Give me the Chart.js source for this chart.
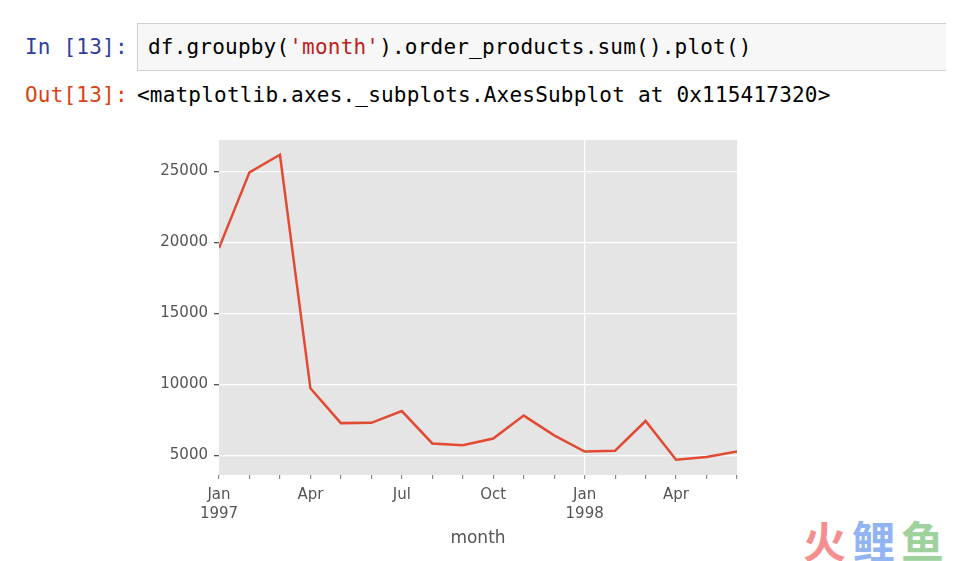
<!DOCTYPE html>
<html lang="en">
<head>
    <meta charset="UTF-8">
    <title>order_products by month</title>
    <style>
        body {
            margin: 0;
            background: #ffffff;
            width: 973px;
            height: 561px;
            position: relative;
            overflow: hidden;
            font-family: "DejaVu Sans Mono", monospace;
        }
        .prompt {
            position: absolute;
            left: 25px;
            font-size: 21px;
            letter-spacing: 0.2px;
        }
        .in { top: 35px; color: #303F9F; }
        .out { top: 83px; color: #D84315; }
        .codebox {
            position: absolute;
            left: 137px;
            top: 23px;
            width: 808px;
            height: 46px;
            background: #f7f7f7;
            border: 1px solid #cfcfcf;
            border-right: none;
        }
        .code {
            position: absolute;
            left: 10px;
            top: 11px;
            font-size: 21px;
            letter-spacing: 0.2px;
            color: #000;
            white-space: pre;
        }
        .str { color: #BA2121; }
        .outtext {
            position: absolute;
            left: 137px;
            top: 83px;
            font-size: 21px;
            letter-spacing: 0.2px;
            color: #000;
            white-space: pre;
        }
        #wrap {
            position: absolute;
            left: 140px;
            top: 130px;
            width: 610px;
            height: 425px;
        }
        .logo {
            position: absolute;
            left: 803px;
            top: 508px;
            font-family: "Noto Sans CJK SC", sans-serif;
            font-weight: bold;
            font-size: 43px;
            letter-spacing: 6px;
            opacity: 0.85;
        }
    </style>
    <script src="https://cdn.jsdelivr.net/npm/chart.js"></script>
</head>
<body>

<div class="prompt in">In [13]:</div>
<div class="codebox"><div class="code">df.groupby(<span class="str">'month'</span>).order_products.sum().plot()</div></div>
<div class="prompt out">Out[13]:</div>
<div class="outtext">&lt;matplotlib.axes._subplots.AxesSubplot at 0x115417320&gt;</div>

<div id="wrap"><canvas id="lineChart"></canvas></div>

<div class="logo"><span style="color:#F47C7C">火</span><span style="color:#7FA7F0">鲤</span><span style="color:#8CCB8C">鱼</span></div>

<script>
    // monthly totals, Jan 1997 .. Jun 1998
    const months = ['1997-01', '1997-02', '1997-03', '1997-04', '1997-05', '1997-06',
                    '1997-07', '1997-08', '1997-09', '1997-10', '1997-11', '1997-12',
                    '1998-01', '1998-02', '1998-03', '1998-04', '1998-05', '1998-06'];
    const orderProducts = [19600, 24920, 26160, 9730, 7280, 7300,
                           8130, 5850, 5730, 6200, 7810, 6420,
                           5280, 5340, 7430, 4700, 4900, 5290];
    const yTicks = [5000, 10000, 15000, 20000, 25000];
    // labelled months (index -> label lines)
    const xTickLabels = { 0: ['Jan', '1997'], 3: 'Apr', 6: 'Jul', 9: 'Oct', 12: ['Jan', '1998'], 15: 'Apr' };

    const points = orderProducts.map((v, i) => ({ x: i, y: v }));

    // grey panel behind the plot, ggplot style
    const panelBg = {
        id: 'panelBg',
        beforeDraw(chart) {
            const { ctx, chartArea: a } = chart;
            ctx.save();
            ctx.fillStyle = '#e5e5e5';
            ctx.fillRect(a.left, a.top, a.right - a.left, a.bottom - a.top);
            ctx.restore();
        }
    };

    const ctx = document.getElementById('lineChart').getContext('2d');
    const chart = new Chart(ctx, {
        type: 'line',
        data: {
            datasets: [{
                label: 'order_products',
                data: points,
                borderColor: '#E24A33',
                borderWidth: 2.5,
                pointRadius: 0,
                tension: 0,
                fill: false
            }]
        },
        options: {
            responsive: true,
            maintainAspectRatio: false,
            animation: false,
            layout: { padding: { top: 10, right: 13, bottom: 0, left: 0 } },
            plugins: {
                legend: { display: false },
                tooltip: { enabled: false }
            },
            scales: {
                x: {
                    type: 'linear',
                    min: 0,
                    max: months.length - 1,
                    afterBuildTicks(scale) {
                        scale.ticks = months.map((m, i) => ({ value: i }));
                    },
                    afterFit(scale) {
                        scale.height = 80;
                        scale.paddingRight = 0;
                    },
                    border: { display: false },
                    grid: {
                        color: c => (c.tick && c.tick.value === 12) ? '#ffffff' : 'rgba(0,0,0,0)',
                        lineWidth: 1.2,
                        tickColor: '#8a8a8a',
                        tickLength: 4
                    },
                    ticks: {
                        autoSkip: false,
                        maxRotation: 0,
                        padding: 6,
                        color: '#555555',
                        font: { family: 'DejaVu Sans', size: 15, lineHeight: 1.3 },
                        callback: v => xTickLabels[v] !== undefined ? xTickLabels[v] : ''
                    },
                    title: {
                        display: true,
                        text: 'month',
                        color: '#555555',
                        font: { family: 'DejaVu Sans', size: 17 },
                        padding: { top: 4, bottom: 6 }
                    }
                },
                y: {
                    min: 3630,
                    max: 27200,
                    afterBuildTicks(scale) {
                        scale.ticks = yTicks.map(v => ({ value: v }));
                    },
                    afterFit(scale) {
                        scale.width = 79;
                        scale.paddingTop = 0;
                        scale.paddingBottom = 0;
                    },
                    border: { display: false },
                    grid: {
                        color: '#ffffff',
                        lineWidth: 1.3,
                        tickColor: '#555555',
                        tickLength: 5
                    },
                    ticks: {
                        padding: 6,
                        color: '#555555',
                        font: { family: 'DejaVu Sans', size: 15 },
                        callback: v => String(v)
                    }
                }
            }
        },
        plugins: [panelBg]
    });
</script>

</body>
</html>
